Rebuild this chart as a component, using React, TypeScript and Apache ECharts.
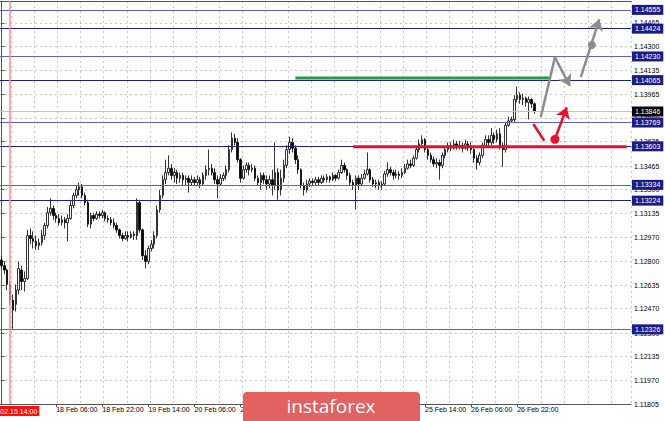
import React, { useEffect, useRef } from "react";
import * as echarts from "echarts";

// [open, close, low, high] — hourly EURUSD candles
const candles: number[][] = [
  [1.1281,1.1277,1.1275,1.1284],[1.1277,1.1274,1.1271,1.1280],[1.1274,1.1264,1.1260,1.1275],[1.1264,1.1253,1.1250,1.1266],
  [1.1253,1.1246,1.1233,1.1257],[1.1250,1.1260,1.1245,1.1264],[1.1260,1.1275,1.1257,1.1280],[1.1274,1.1266,1.1260,1.1277],
  [1.1266,1.1268,1.1259,1.1273],[1.1268,1.1298,1.1267,1.1302],[1.1298,1.1296,1.1292,1.1303],[1.1296,1.1294,1.1289,1.1301],
  [1.1294,1.1291,1.1288,1.1298],[1.1291,1.1293,1.1288,1.1296],[1.1293,1.1298,1.1291,1.1302],[1.1298,1.1305,1.1295,1.1307],
  [1.1305,1.1314,1.1303,1.1318],[1.1314,1.1317,1.1312,1.1324],[1.1317,1.1312,1.1309,1.1319],[1.1312,1.1310,1.1307,1.1314],
  [1.1310,1.1307,1.1305,1.1313],[1.1307,1.1309,1.1305,1.1312],[1.1309,1.1307,1.1303,1.1311],[1.1307,1.1310,1.1294,1.1313],
  [1.1310,1.1319,1.1309,1.1323],[1.1319,1.1326,1.1317,1.1328],[1.1326,1.1330,1.1324,1.1333],[1.1330,1.1332,1.1326,1.1335],
  [1.1332,1.1326,1.1324,1.1334],[1.1326,1.1321,1.1319,1.1328],[1.1321,1.1306,1.1304,1.1323],[1.1306,1.1312,1.1303,1.1314],
  [1.1312,1.1310,1.1308,1.1314],[1.1310,1.1313,1.1309,1.1315],[1.1313,1.1312,1.1310,1.1315],[1.1312,1.1314,1.1310,1.1316],
  [1.1314,1.1310,1.1308,1.1315],[1.1310,1.1309,1.1307,1.1312],[1.1309,1.1307,1.1305,1.1311],[1.1307,1.1305,1.1303,1.1310],
  [1.1305,1.1302,1.1300,1.1307],[1.1302,1.1298,1.1296,1.1303],[1.1298,1.1296,1.1294,1.1300],[1.1296,1.1298,1.1295,1.1301],
  [1.1298,1.1297,1.1294,1.1301],[1.1297,1.1299,1.1296,1.1301],[1.1299,1.1298,1.1295,1.1301],[1.1298,1.1321,1.1295,1.1324],
  [1.1321,1.1302,1.1300,1.1323],[1.1302,1.1284,1.1281,1.1303],[1.1284,1.1280,1.1275,1.1288],[1.1280,1.1289,1.1278,1.1291],
  [1.1289,1.1292,1.1287,1.1295],[1.1292,1.1298,1.1289,1.1301],[1.1298,1.1316,1.1296,1.1319],[1.1316,1.1326,1.1314,1.1330],
  [1.1326,1.1337,1.1324,1.1340],[1.1337,1.1342,1.1334,1.1351],[1.1342,1.1345,1.1340,1.1354],[1.1345,1.1340,1.1337,1.1348],
  [1.1340,1.1342,1.1335,1.1345],[1.1342,1.1338,1.1334,1.1344],[1.1338,1.1340,1.1335,1.1342],[1.1340,1.1337,1.1333,1.1342],
  [1.1337,1.1338,1.1333,1.1340],[1.1338,1.1335,1.1328,1.1340],[1.1335,1.1337,1.1333,1.1340],[1.1337,1.1335,1.1333,1.1339],
  [1.1335,1.1337,1.1333,1.1340],[1.1337,1.1334,1.1331,1.1339],[1.1334,1.1340,1.1333,1.1342],[1.1340,1.1344,1.1337,1.1347],
  [1.1344,1.1345,1.1340,1.1358],[1.1345,1.1342,1.1340,1.1348],[1.1342,1.1337,1.1334,1.1345],[1.1337,1.1334,1.1324,1.1340],
  [1.1334,1.1338,1.1333,1.1341],[1.1338,1.1340,1.1336,1.1342],[1.1340,1.1344,1.1337,1.1347],[1.1344,1.1358,1.1342,1.1361],
  [1.1358,1.1366,1.1356,1.1370],[1.1366,1.1363,1.1361,1.1369],[1.1363,1.1351,1.1349,1.1366],[1.1351,1.1338,1.1335,1.1352],
  [1.1338,1.1344,1.1337,1.1347],[1.1344,1.1347,1.1342,1.1349],[1.1347,1.1344,1.1340,1.1349],[1.1344,1.1345,1.1342,1.1348],
  [1.1345,1.1338,1.1336,1.1347],[1.1338,1.1335,1.1333,1.1340],[1.1335,1.1340,1.1330,1.1342],[1.1340,1.1337,1.1334,1.1342],
  [1.1337,1.1334,1.1330,1.1340],[1.1334,1.1337,1.1331,1.1340],[1.1337,1.1333,1.1326,1.1344],[1.1333,1.1342,1.1330,1.1363],
  [1.1342,1.1330,1.1323,1.1345],[1.1330,1.1338,1.1326,1.1344],[1.1338,1.1347,1.1335,1.1351],[1.1347,1.1358,1.1345,1.1361],
  [1.1358,1.1363,1.1355,1.1367],[1.1363,1.1359,1.1356,1.1366],[1.1359,1.1351,1.1348,1.1361],[1.1351,1.1344,1.1341,1.1354],
  [1.1344,1.1333,1.1331,1.1345],[1.1333,1.1330,1.1326,1.1335],[1.1330,1.1334,1.1328,1.1337],[1.1334,1.1336,1.1332,1.1338],
  [1.1336,1.1335,1.1333,1.1338],[1.1335,1.1337,1.1333,1.1339],[1.1337,1.1335,1.1333,1.1339],[1.1335,1.1338,1.1334,1.1340],
  [1.1338,1.1337,1.1335,1.1340],[1.1337,1.1339,1.1335,1.1341],[1.1339,1.1337,1.1335,1.1340],[1.1337,1.1340,1.1336,1.1342],
  [1.1340,1.1338,1.1336,1.1341],[1.1338,1.1342,1.1337,1.1344],[1.1342,1.1347,1.1341,1.1351],[1.1347,1.1344,1.1342,1.1349],
  [1.1344,1.1340,1.1337,1.1345],[1.1340,1.1335,1.1333,1.1342],[1.1335,1.1333,1.1330,1.1337],[1.1333,1.1338,1.1316,1.1340],
  [1.1338,1.1334,1.1330,1.1340],[1.1334,1.1338,1.1333,1.1341],[1.1338,1.1341,1.1337,1.1344],[1.1341,1.1344,1.1340,1.1356],
  [1.1344,1.1337,1.1335,1.1345],[1.1337,1.1334,1.1332,1.1339],[1.1334,1.1335,1.1331,1.1337],[1.1335,1.1333,1.1330,1.1337],
  [1.1333,1.1334,1.1330,1.1336],[1.1334,1.1341,1.1333,1.1343],[1.1341,1.1344,1.1339,1.1349],[1.1344,1.1342,1.1340,1.1346],
  [1.1342,1.1340,1.1337,1.1344],[1.1340,1.1341,1.1338,1.1344],[1.1341,1.1340,1.1337,1.1343],[1.1340,1.1342,1.1338,1.1345],
  [1.1342,1.1345,1.1341,1.1348],[1.1345,1.1348,1.1344,1.1351],[1.1348,1.1347,1.1345,1.1351],[1.1347,1.1352,1.1346,1.1354],
  [1.1352,1.1358,1.1351,1.1360],[1.1358,1.1362,1.1356,1.1365],[1.1362,1.1365,1.1361,1.1368],[1.1365,1.1358,1.1356,1.1366],
  [1.1358,1.1354,1.1351,1.1360],[1.1354,1.1351,1.1349,1.1356],[1.1351,1.1348,1.1346,1.1353],[1.1348,1.1349,1.1345,1.1352],
  [1.1349,1.1347,1.1337,1.1351],[1.1347,1.1354,1.1345,1.1356],[1.1354,1.1358,1.1352,1.1360],[1.1358,1.1361,1.1356,1.1363],
  [1.1361,1.1359,1.1357,1.1363],[1.1359,1.1362,1.1358,1.1365],[1.1362,1.1360,1.1358,1.1364],[1.1360,1.1361,1.1358,1.1364],
  [1.1361,1.1359,1.1356,1.1363],[1.1359,1.1362,1.1358,1.1365],[1.1362,1.1360,1.1357,1.1364],[1.1360,1.1358,1.1355,1.1363],
  [1.1358,1.1352,1.1349,1.1359],[1.1352,1.1349,1.1344,1.1354],[1.1349,1.1354,1.1347,1.1356],[1.1354,1.1361,1.1352,1.1363],
  [1.1361,1.1365,1.1359,1.1368],[1.1365,1.1363,1.1360,1.1368],[1.1363,1.1368,1.1361,1.1373],[1.1368,1.1365,1.1362,1.1370],
  [1.1365,1.1369,1.1363,1.1372],[1.1369,1.1361,1.1358,1.1373],[1.1361,1.1358,1.1346,1.1363],[1.1358,1.1375,1.1356,1.1377],
  [1.1375,1.1378,1.1374,1.1381],[1.1378,1.1379,1.1377,1.1381],[1.1379,1.1393,1.1377,1.1396],[1.1393,1.1396,1.1391,1.1402],
  [1.1396,1.1393,1.1390,1.1398],[1.1393,1.1394,1.1389,1.1397],[1.1394,1.1391,1.1388,1.1395],[1.1391,1.1393,1.1379,1.1395],
  [1.1393,1.1390,1.1387,1.1394],[1.1390,1.13846,1.1383,1.1391],
];

const tickLabels = [
  "18 Feb 06:00", "18 Feb 22:00", "19 Feb 14:00", "20 Feb 06:00", "20 Feb 22:00", "21 Feb 14:00",
  "24 Feb 06:00", "24 Feb 22:00", "25 Feb 14:00", "26 Feb 06:00", "26 Feb 22:00",
];
const yTickValues = [
  1.11805, 1.1197, 1.12135, 1.123, 1.1247, 1.12635, 1.128, 1.1297, 1.13135, 1.133, 1.13465,
  1.13635, 1.138, 1.13965, 1.14135, 1.143, 1.14465,
];
const levelsDark = [1.14424, 1.14065, 1.13603, 1.13224];
const levelsLight = [1.14555, 1.1423, 1.13769, 1.13334, 1.12326];
const lastPrice = 1.13846;
const markerCategory = "17 Feb 14:00";
const markerLabel = "2020.02.15 14:00";

// [bar index, price]
const greenSegment = [[102, 1.1408], [190, 1.1408]];
const redSegment = [[122, 1.136], [217, 1.136]];
const grayRise = [[187.2, 1.13807], [192.1, 1.14224]];
const grayFall = [[192.1, 1.14224], [197.3, 1.14024]];
const grayRise2 = [[201.1, 1.14085], [207.5, 1.14489]];
const grayDot = [[204.9, 1.1431]];
const redDrop = [[184.6, 1.13759], [188.4, 1.13642]];
const redRise = [[192.1, 1.13652], [196.2, 1.13875]];
const redDot = [[192.1, 1.13652]];

const N_BARS = 219;
const MONTHS = ["Jan", "Feb", "Mar", "Apr", "May", "Jun", "Jul", "Aug", "Sep", "Oct", "Nov", "Dec"];
function buildCategories(n: number): string[] {
  const out: string[] = [];
  let t = Date.UTC(2020, 1, 17, 11);
  while (out.length < n) {
    const d = new Date(t);
    const wd = d.getUTCDay();
    if (wd !== 0 && wd !== 6) {
      out.push(`${d.getUTCDate()} ${MONTHS[d.getUTCMonth()]} ${String(d.getUTCHours()).padStart(2, "0")}:00`);
    }
    t += 3600000;
  }
  return out;
}

const FONT = "Liberation Sans";
const NAVY = "#1c1c88";

export default function App() {
  const ref = useRef<HTMLDivElement>(null);
  useEffect(() => {
    if (!ref.current) return;
    const chart = echarts.init(ref.current, undefined, { renderer: "svg" });
    const categories = buildCategories(N_BARS);
    const showIdx = (i: number) => tickLabels.includes(categories[i]);
    const levelLabel = (bg: string, v: number) => ({
      show: true,
      position: "end",
      distance: 1,
      formatter: v.toFixed(5),
      backgroundColor: bg,
      color: "#fff",
      padding: [2, 3, 1, 3],
      fontSize: 7,
      fontFamily: FONT,
    });
    const levelData = [
      ...levelsLight.map((v) => ({ yAxis: v, lineStyle: { color: "#6262bd", width: 1.2, type: "solid" }, label: levelLabel(NAVY, v) })),
      ...levelsDark.map((v) => ({ yAxis: v, lineStyle: { color: "#20208c", width: 1, type: "solid" }, label: levelLabel(NAVY, v) })),
      { yAxis: lastPrice, lineStyle: { color: "#c4c4c4", width: 1, type: "solid" }, label: levelLabel("#000", lastPrice) },
    ];
    chart.setOption({
      animation: false,
      backgroundColor: "#ffffff",
      grid: { left: 0, right: 34, top: 1, bottom: 17 },
      xAxis: [
        {
          type: "category",
          data: categories,
          boundaryGap: true,
          axisLine: { show: true, lineStyle: { color: "#555", width: 1 } },
          axisTick: { show: true, alignWithLabel: true, interval: (i: number) => showIdx(i), length: 3, lineStyle: { color: "#555" } },
          axisLabel: {
            interval: (i: number) => showIdx(i),
            align: "left",
            margin: 2,
            fontSize: 7,
            fontFamily: FONT,
            color: "#000",
          },
          splitLine: { show: true, interval: (i: number) => i % 8 === 4, lineStyle: { color: "#c8c8c8", type: [2, 3], width: 1 } },
        },
        {
          type: "value",
          min: -0.5,
          max: N_BARS - 0.5,
          position: "top",
          axisLine: { show: true, onZero: false, lineStyle: { color: "#555", width: 1 } },
          axisTick: { show: false },
          axisLabel: { show: false },
          splitLine: { show: false },
        },
      ],
      yAxis: {
        type: "value",
        position: "right",
        min: 1.11805,
        max: 1.14617,
        axisLine: { show: true, lineStyle: { color: "#555", width: 1 } },
        axisTick: { show: true, customValues: yTickValues, length: 3, lineStyle: { color: "#555" } },
        axisLabel: {
          customValues: yTickValues,
          formatter: (v: number) => v.toFixed(5),
          fontSize: 7,
          fontFamily: FONT,
          color: "#000",
          margin: 3,
          showMinLabel: true,
          showMaxLabel: true,
        },
        splitLine: { show: true, lineStyle: { color: "#c8c8c8", type: [2, 3], width: 1 } },
      },
      series: [
        {
          type: "candlestick",
          data: candles,
          barWidth: 2,
          itemStyle: { color: "#ffffff", color0: "#000000", borderColor: "#000000", borderColor0: "#000000", borderWidth: 0.8 },
          markLine: {
            symbol: "none",
            silent: true,
            animation: false,
            precision: 5,
            z: 4,
            data: [
              ...levelData,
              {
                xAxis: markerCategory,
                lineStyle: { color: "#ff8c8c", width: 1.5, type: "solid" },
                label: {
                  show: true,
                  position: "start",
                  distance: 2,
                  formatter: markerLabel,
                  backgroundColor: "#ff1010",
                  color: "#fff",
                  padding: [2, 2, 1, 2],
                  fontSize: 7,
                  fontFamily: FONT,
                },
              },
            ],
          },
          z: 3,
        },
        {
          type: "line",
          xAxisIndex: 1,
          data: greenSegment,
          showSymbol: false,
          lineStyle: { color: "#1f9e3a", width: 3 },
          z: 10,
        },
        {
          type: "line",
          xAxisIndex: 1,
          data: redSegment,
          showSymbol: false,
          lineStyle: { color: "#e8102a", width: 3 },
          z: 10,
        },
        {
          type: "line",
          xAxisIndex: 1,
          data: grayRise,
          showSymbol: false,
          lineStyle: { color: "#8c8c8c", width: 2.5 },
          z: 11,
        },
        {
          type: "line",
          xAxisIndex: 1,
          data: redDrop,
          showSymbol: false,
          lineStyle: { color: "#e8102a", width: 2.5 },
          z: 11,
        },
        {
          type: "lines",
          coordinateSystem: "cartesian2d",
          xAxisIndex: 1,
          yAxisIndex: 0,
          symbol: ["none", "arrow"],
          symbolSize: [8, 11],
          lineStyle: { color: "#8c8c8c", width: 2.5, opacity: 1 },
          data: [{ coords: grayFall }, { coords: grayRise2 }],
          z: 11,
        },
        {
          type: "lines",
          coordinateSystem: "cartesian2d",
          xAxisIndex: 1,
          yAxisIndex: 0,
          symbol: ["none", "arrow"],
          symbolSize: [8, 11],
          lineStyle: { color: "#e8102a", width: 2.5, opacity: 1 },
          data: [{ coords: redRise }],
          z: 11,
        },
        {
          type: "scatter",
          xAxisIndex: 1,
          data: grayDot,
          symbolSize: 8,
          itemStyle: { color: "#8c8c8c", opacity: 1 },
          z: 12,
        },
        {
          type: "scatter",
          xAxisIndex: 1,
          data: redDot,
          symbolSize: 9,
          itemStyle: { color: "#e8102a", opacity: 1 },
          z: 12,
        },
      ],
      graphic: [
        {
          type: "group",
          z: 100,
          children: [
            {
              type: "rect",
              shape: { x: 243, y: 392, width: 177, height: 30, r: [4, 4, 0, 0] },
              style: { fill: "#e26161" },
              z: 100,
            },
            {
              type: "text",
              x: 331,
              y: 406,
              style: {
                text: "instaforex",
                fill: "#ffffff",
                fontSize: 19,
                fontFamily: "Open Sans",
                align: "center",
                verticalAlign: "middle",
              },
              z: 101,
            },
          ],
        },
      ],
    });
    return () => chart.dispose();
  }, []);
  return <div ref={ref} style={{ position: "fixed", left: 0, top: 0, width: 665, height: 421, background: "#fff" }} />;
}
